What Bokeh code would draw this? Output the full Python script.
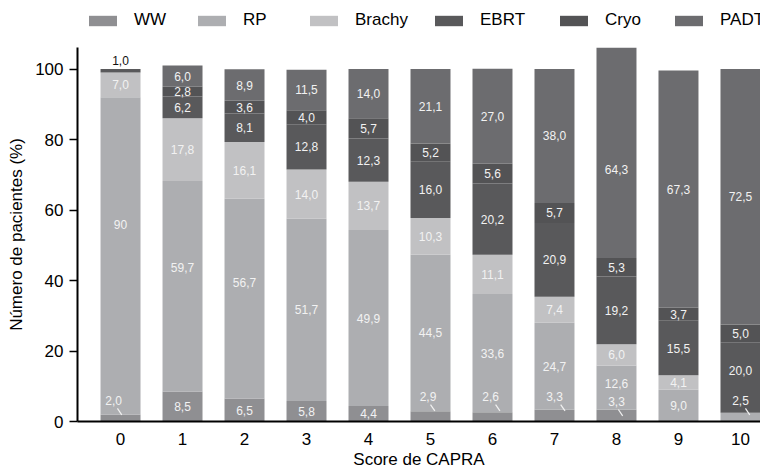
from bokeh.plotting import figure
from bokeh.layouts import column
from bokeh.models import Range1d, FixedTicker, Legend, LegendItem
from bokeh.embed import file_html
from bokeh.resources import INLINE
from bokeh.core.properties import value
import numpy as np

# CAPRA score categories and tick labels
scores = list(range(11))
score_labels = [str(s) for s in scores]

# Share of patients (%) per treatment, for each CAPRA score
series_names = ["WW", "RP", "Brachy", "EBRT", "Cryo", "PADT"]
ww = [2.0, 8.5, 6.5, 5.8, 4.4, 2.9, 2.6, 3.3, 3.3, 0.0, 0.0]
rp = [90, 59.7, 56.7, 51.7, 49.9, 44.5, 33.6, 24.7, 12.6, 9.0, 2.5]
brachy = [7.0, 17.8, 16.1, 14.0, 13.7, 10.3, 11.1, 7.4, 6.0, 4.1, 0.0]
ebrt = [1.0, 6.2, 8.1, 12.8, 12.3, 16.0, 20.2, 20.9, 19.2, 15.5, 20.0]
cryo = [0.0, 2.8, 3.6, 4.0, 5.7, 5.2, 5.6, 5.7, 5.3, 3.7, 5.0]
padt = [0.0, 6.0, 8.9, 11.5, 14.0, 21.1, 27.0, 38.0, 64.3, 67.3, 72.5]
series_values = [ww, rp, brachy, ebrt, cryo, padt]
y_ticks = [0, 20, 40, 60, 80, 100]

# Styling
colors = ["#8f8f92", "#adaeb1", "#c1c1c3", "#59595b", "#535355", "#6c6c6f"]
FONT = "Liberation Sans"
BAR_WIDTH = 0.645
LABEL_COLOR = "#f2f2f2"

# Label placement tweaks (in data units)
label_y_override = {
    ("RP", 0): 56.0, ("RP", 1): 43.8, ("RP", 2): 39.5, ("RP", 8): 10.7,
    ("PADT", 8): 71.5, ("EBRT", 10): 14.4,
}
# labels lifted above a thin segment with a short leader: (label y, label dx, leader dx)
callouts = {
    ("WW", 0): (5.9, -0.11, -0.05), ("WW", 5): (7.0, -0.04, 0.0),
    ("WW", 6): (7.0, -0.03, 0.05), ("WW", 7): (7.0, 0.0, 0.10),
    ("WW", 8): (5.6, 0.0, 0.03), ("RP", 10): (5.9, 0.0, 0.08),
}
# labels written above the bar in dark text
outside_labels = {("EBRT", 0): 102.3}
# legend swatch left edges (page px)
legend_x = [85, 194, 306, 431, 556, 671]

WIDTH = 760
LEGEND_H = 40
FRAME_LEFT = 77

# ---- main bar chart ----
p = figure(width=WIDTH, height=471 - LEGEND_H, output_backend="svg", toolbar_location=None,
           x_range=Range1d(-0.694, 10.323), y_range=Range1d(0, 106.1),
           min_border_left=FRAME_LEFT, min_border_right=0,
           min_border_top=7, min_border_bottom=50)
p.background_fill_color = "white"
p.border_fill_color = "white"
p.outline_line_color = None
p.grid.visible = False

def fmt(v):
    if isinstance(v, int):
        return str(v)
    return f"{v:.1f}".replace(".", ",")

bottoms = np.zeros(len(scores))
lx, ly, lt, lc = [], [], [], []
lead_x0, lead_y0, lead_x1, lead_y1 = [], [], [], []
for name, vals, col in zip(series_names, series_values, colors):
    vals_arr = np.array(vals, dtype=float)
    tops = bottoms + vals_arr
    p.vbar(x=scores, bottom=bottoms.tolist(), top=tops.tolist(), width=BAR_WIDTH,
           fill_color=col, line_color=None)
    for i, s in enumerate(scores):
        v = vals[i]
        if v == 0:
            continue
        key = (name, s)
        if key in callouts:
            y_lab, dx, ldx = callouts[key]
            lx.append(s + dx); ly.append(y_lab); lt.append(fmt(v)); lc.append(LABEL_COLOR)
            lead_x0.append(s + ldx); lead_y0.append(y_lab - 2.2)
            lead_x1.append(s + ldx + 0.07); lead_y1.append(y_lab - 4.0)
        elif key in outside_labels:
            lx.append(s); ly.append(outside_labels[key]); lt.append(fmt(v)); lc.append("#111111")
        else:
            y_lab = label_y_override.get(key, bottoms[i] + v / 2)
            lx.append(s); ly.append(y_lab); lt.append(fmt(v)); lc.append(LABEL_COLOR)
    bottoms = tops

p.text(x=lx, y=ly, text=lt, text_color=lc, text_align="center", text_baseline="middle",
       text_font=value(FONT), text_font_size="12px")
p.segment(x0=lead_x0, y0=lead_y0, x1=lead_x1, y1=lead_y1, line_color=LABEL_COLOR, line_width=1.2)

# Axes
p.xaxis.ticker = FixedTicker(ticks=scores)
p.xaxis.major_label_overrides = {s: lab for s, lab in zip(scores, score_labels)}
p.xaxis.major_tick_line_color = None
p.xaxis.minor_tick_line_color = None
p.xaxis.axis_label = "Score de CAPRA"
p.xaxis.major_label_standoff = 5
p.xaxis.axis_label_standoff = 2

p.yaxis.ticker = FixedTicker(ticks=y_ticks)
p.yaxis.minor_tick_line_color = None
p.yaxis.major_tick_out = 8
p.yaxis.major_tick_in = 0
p.yaxis.major_tick_line_width = 1.5
p.yaxis.major_tick_line_color = "black"
p.yaxis.axis_label = "Número de pacientes (%)"
p.yaxis.major_label_standoff = 6
p.yaxis.axis_label_standoff = 6

for ax in (p.xaxis, p.yaxis):
    ax.axis_line_color = "black"
    ax.axis_line_width = 2
    ax.major_label_text_font = FONT
    ax.major_label_text_font_size = "17px"
    ax.major_label_text_color = "black"
    ax.axis_label_text_font = FONT
    ax.axis_label_text_font_size = "17px"
    ax.axis_label_text_font_style = "normal"
    ax.axis_label_text_color = "black"

# ---- legend strip above the chart (its frame lines up with the chart frame) ----
lg = figure(width=WIDTH, height=LEGEND_H, output_backend="svg", toolbar_location=None,
            x_range=Range1d(0, 1), y_range=Range1d(0, 1),
            x_axis_location=None, y_axis_location=None, min_border=0)
lg.outline_line_color = None
lg.grid.visible = False
lg.background_fill_color = "white"
lg.border_fill_color = "white"

for name, col, x0 in zip(series_names, colors, legend_x):
    # zero-height bar: only provides the swatch style for the legend entry
    swatch = lg.vbar(x=[0.5], bottom=[0], top=[0], width=0.1, fill_color=col, line_color=None)
    leg = Legend(items=[LegendItem(label=name, renderers=[swatch])],
                 location=(x0 - FRAME_LEFT, 10), orientation="horizontal",
                 glyph_width=35, glyph_height=13, label_standoff=14, label_height=20,
                 padding=0, margin=0, spacing=0,
                 border_line_color=None, background_fill_alpha=0,
                 label_text_font=FONT, label_text_font_size="17px",
                 label_text_color="black")
    lg.add_layout(leg)

layout = column(lg, p, spacing=0)
open("out.html", "w").write(file_html(layout, INLINE))
